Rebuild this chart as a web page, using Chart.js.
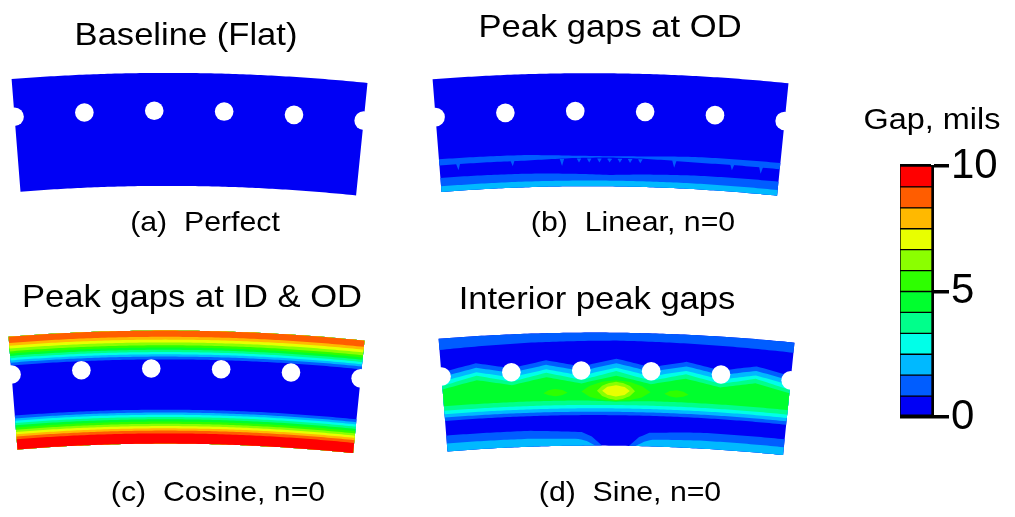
<!DOCTYPE html>
<html>
<head>
<meta charset="utf-8">
<script src="https://cdn.jsdelivr.net/npm/chart.js@4/dist/chart.umd.min.js"></script>
<style>
  html, body { margin: 0; padding: 0; background: #fff; }
  #wrap { position: relative; width: 1015px; height: 517px; overflow: hidden;
          font-family: 'Liberation Sans', Arial, Helvetica, sans-serif; color: #000; }
  #rings { position: absolute; left: 0; top: 0; }
  #legend { position: absolute; left: 890px; top: 130px; }
  .lbl { position: absolute; white-space: pre; line-height: 1; transform: translateX(-50%) scaleX(1.08); }
  .title { font-size: 32px; }
  .cap { font-size: 28px; }
  .unit { font-size: 30px; }
</style>
</head>
<body>
<div id="wrap">
  <canvas id="rings" width="1015" height="517"></canvas>
  <canvas id="legend" width="110" height="310"></canvas>

  <div class="lbl title" style="left:186px; top:18px">Baseline (Flat)</div>
  <div class="lbl title" style="left:610px; top:10px">Peak gaps at OD</div>
  <div class="lbl title" style="left:192px; top:280px">Peak gaps at ID &amp; OD</div>
  <div class="lbl title" style="left:597px; top:282px">Interior peak gaps</div>

  <div class="lbl cap" style="left:205px; top:208px">(a)  Perfect</div>
  <div class="lbl cap" style="left:633px; top:208px">(b)  Linear, n=0</div>
  <div class="lbl cap" style="left:218px; top:478px">(c)  Cosine, n=0</div>
  <div class="lbl cap" style="left:630px; top:478px">(d)  Sine, n=0</div>

  <div class="lbl unit" style="left:932px; top:104px">Gap, mils</div>
</div>

<script>
// ---- data -------------------------------------------------------------

// colour legend: 12 equal gap bands from 0 to 10 mils
const gapEdges = [0, 0.833, 1.667, 2.5, 3.333, 4.167, 5, 5.833, 6.667, 7.5, 8.333, 9.167, 10];
const gapTicks = [0, 5, 10];

// bolt holes: place along the arc (-1 left end .. 1 right end), radial fraction (0 = ID, 1 = OD)
const holeU = [-1, -0.6, -0.2, 0.2, 0.6, 1];
const holeS = 0.665;

// contour regions: gap band index, stations along the arc, lower and upper radial fraction
// (a) flat: whole face sits in the lowest band
const flatBands = [
  { lvl: 0, u: [-1, 1], lo: [0, 0], hi: [1, 1] }
];

// (b) linear: a few thin rings near the ID
const linearBands = [
  { lvl: 0, u: [-1, 1], lo: [0, 0], hi: [1, 1] },
  { lvl: 1, u: [-1, -0.5, -0.2, 0, 0.2, 0.5, 1], lo: [0, 0, 0, 0, 0, 0, 0], hi: [0.125, 0.12, 0.11, 0.1, 0.11, 0.12, 0.125] },
  { lvl: 1, u: [-1, -0.5, -0.2, 0, 0.2, 0.5, 1], lo: [0.235, 0.235, 0.25, 0.255, 0.25, 0.235, 0.235], hi: [0.29, 0.285, 0.27, 0.265, 0.27, 0.285, 0.29] },
  { lvl: 2, u: [-1, 1], lo: [0, 0], hi: [0.05, 0.05] }
];
// small drips hanging under the second ring
const linearDrips = [-0.89, -0.57, -0.28, -0.18, -0.12, -0.06, 0, 0.06, 0.12, 0.18, 0.38, 0.72, 0.89];
const linearDripDepth = [0.06, 0.05, 0.06, 0.03, 0.03, 0.03, 0.03, 0.03, 0.03, 0.03, 0.06, 0.05, 0.06];

// (c) cosine: nested bands at the ID (bottom) and the OD (top)
const cosineBottom = [0.30, 0.275, 0.255, 0.235, 0.215, 0.195, 0.175, 0.155, 0.135, 0.115, 0.09]; // bands 1..11
const cosineTop = [0.745, 0.77, 0.79, 0.81, 0.83, 0.85, 0.87, 0.895, 0.92, 0.945];               // bands 1..10

// (d) sine: peak in the interior, humps rising between the holes
const sineU = [-1, -0.8, -0.6, -0.4, -0.2, 0, 0.2, 0.4, 0.6, 0.8, 1];
const sineBands = [
  { lvl: 0, u: [-1, 1], lo: [0, 0], hi: [1, 1] },
  { lvl: 1, u: [-1, -0.5, 0, 0.5, 1], lo: [0.90, 0.92, 0.93, 0.92, 0.91], hi: [1, 1, 1, 1, 1] },
  { lvl: 1, u: sineU, lo: [0.27, 0.27, 0.27, 0.27, 0.27, 0.27, 0.27, 0.27, 0.27, 0.27, 0.27],
    hi: [0.70, 0.76, 0.70, 0.76, 0.70, 0.77, 0.70, 0.76, 0.70, 0.76, 0.70] },
  { lvl: 1, u: [-1, -0.5, -0.2, -0.14, -0.08], lo: [0, 0, 0, 0, 0], hi: [0.14, 0.14, 0.12, 0.08, 0] },
  { lvl: 1, u: [0.08, 0.14, 0.2, 0.5, 1], lo: [0, 0, 0, 0, 0], hi: [0, 0.08, 0.12, 0.14, 0.14] },
  { lvl: 2, u: sineU, lo: [0.30, 0.30, 0.30, 0.30, 0.30, 0.30, 0.30, 0.30, 0.30, 0.30, 0.30],
    hi: [0.66, 0.72, 0.66, 0.72, 0.66, 0.73, 0.66, 0.72, 0.66, 0.72, 0.66] },
  { lvl: 2, u: [-1, -0.5, -0.22, -0.17, -0.12], lo: [0, 0, 0, 0, 0], hi: [0.07, 0.07, 0.06, 0.04, 0] },
  { lvl: 2, u: [0.12, 0.17, 0.22, 0.5, 1], lo: [0, 0, 0, 0, 0], hi: [0, 0.04, 0.06, 0.07, 0.07] },
  { lvl: 3, u: sineU, lo: [0.33, 0.33, 0.33, 0.33, 0.33, 0.33, 0.33, 0.33, 0.33, 0.33, 0.33],
    hi: [0.62, 0.68, 0.62, 0.68, 0.62, 0.69, 0.62, 0.68, 0.62, 0.68, 0.62] },
  { lvl: 4, u: sineU, lo: [0.36, 0.36, 0.36, 0.36, 0.36, 0.36, 0.36, 0.36, 0.36, 0.36, 0.36],
    hi: [0.58, 0.65, 0.58, 0.65, 0.58, 0.66, 0.58, 0.65, 0.58, 0.65, 0.58] },
  { lvl: 5, u: sineU, lo: [0.40, 0.40, 0.40, 0.40, 0.40, 0.39, 0.40, 0.40, 0.40, 0.40, 0.40],
    hi: [0.55, 0.61, 0.55, 0.61, 0.55, 0.62, 0.55, 0.61, 0.55, 0.61, 0.55] },
  { lvl: 6, u: [-0.42, -0.39, -0.35, -0.31, -0.28], lo: [0.47, 0.45, 0.44, 0.45, 0.47], hi: [0.47, 0.495, 0.505, 0.495, 0.47] },
  { lvl: 6, u: [0.28, 0.31, 0.35, 0.39, 0.42], lo: [0.47, 0.45, 0.44, 0.45, 0.47], hi: [0.47, 0.495, 0.505, 0.495, 0.47] },
  { lvl: 6, u: [-0.2, -0.15, -0.08, 0, 0.08, 0.15, 0.2], lo: [0.48, 0.43, 0.405, 0.395, 0.405, 0.43, 0.48],
    hi: [0.48, 0.53, 0.565, 0.58, 0.565, 0.53, 0.48] },
  { lvl: 7, u: [-0.11, -0.08, -0.04, 0, 0.04, 0.08, 0.11], lo: [0.485, 0.44, 0.415, 0.405, 0.415, 0.44, 0.485],
    hi: [0.485, 0.53, 0.555, 0.565, 0.555, 0.53, 0.485] },
  { lvl: 8, u: [-0.08, -0.05, 0, 0.05, 0.08], lo: [0.485, 0.45, 0.435, 0.45, 0.485], hi: [0.485, 0.52, 0.535, 0.52, 0.485] }
];

// ---- styling / layout -------------------------------------------------

const BAND_COLORS = ['#0000F5', '#005DFF', '#00B9FF', '#00FFE8', '#00FF8B', '#00FF2E',
                     '#2EFF00', '#8BFF00', '#E8FF00', '#FFB900', '#FF5D00', '#FF0000'];

const R_OUT = 1980, THICK = 113, HALF = 0.09, TILT = 0.011; // ring segment shape, px / rad
const HOLE_R = 9.3;

// build the nested bands of (c) and the drips of (b)
const cosineBands = [{ lvl: 0, u: [-1, 1], lo: [0, 0], hi: [1, 1] }];
cosineBottom.forEach((s, k) => cosineBands.push({ lvl: k + 1, u: [-1, 1], lo: [0, 0], hi: [s, s] }));
cosineTop.forEach((s, k) => cosineBands.push({ lvl: k + 1, u: [-1, 1], lo: [s, s], hi: [1, 1] }));
cosineBands.sort((a, b) => a.lvl - b.lvl);

linearDrips.forEach((u, i) => {
  linearBands.push({ lvl: 1, u: [u - 0.012, u, u + 0.012],
    lo: [0.24, 0.24 - linearDripDepth[i], 0.24], hi: [0.245, 0.245, 0.245] });
});

const panels = [
  { cx: 189, top: 73, bands: flatBands },
  { cx: 610, top: 73.3, bands: linearBands },
  { cx: 186, top: 330.7, bands: cosineBands },
  { cx: 616, top: 332.7, bands: sineBands }
];

// (u, s) on the curved face -> chart units (1 unit = 1 px)
function place(p, u, s) {
  const th = u * HALF, r = R_OUT - THICK * (1 - s);
  const dx = r * Math.sin(th);
  const dy = R_OUT - r * Math.cos(th) - THICK / 2;
  return {
    x: p.cx + dx * Math.cos(TILT) - dy * Math.sin(TILT),
    y: p.top + THICK / 2 + dx * Math.sin(TILT) + dy * Math.cos(TILT)
  };
}

// follow the arc between stations so the edges stay curved
function outline(p, b) {
  const edge = prof => {
    const pts = [];
    for (let i = 0; i < b.u.length - 1; i++) {
      const steps = Math.max(1, Math.ceil(Math.abs(b.u[i + 1] - b.u[i]) / 0.02));
      for (let k = 0; k < steps; k++) {
        const t = k / steps;
        pts.push(place(p, b.u[i] + (b.u[i + 1] - b.u[i]) * t, prof[i] + (prof[i + 1] - prof[i]) * t));
      }
    }
    const n = b.u.length - 1;
    pts.push(place(p, b.u[n], prof[n]));
    return pts;
  };
  return edge(b.lo).concat(edge(b.hi).reverse());
}

const datasets = [];
panels.forEach(p => {
  p.bands.forEach(b => {
    datasets.push({ data: outline(p, b), bandColor: BAND_COLORS[b.lvl], pointRadius: 0, showLine: false });
  });
});
panels.forEach(p => {
  datasets.push({
    data: holeU.map(u => place(p, u, holeS)),
    pointRadius: HOLE_R, pointBackgroundColor: '#fff', pointBorderWidth: 0, pointBorderColor: '#fff'
  });
});

// paint band polygons through the points the scales placed
const bandFill = {
  id: 'bandFill',
  beforeDatasetsDraw(chart) {
    const ctx = chart.ctx;
    chart.data.datasets.forEach((ds, i) => {
      if (!ds.bandColor) return;
      const pts = chart.getDatasetMeta(i).data;
      ctx.save();
      ctx.beginPath();
      pts.forEach((pt, j) => j ? ctx.lineTo(pt.x, pt.y) : ctx.moveTo(pt.x, pt.y));
      ctx.closePath();
      ctx.fillStyle = ds.bandColor;
      ctx.fill();
      ctx.restore();
    });
  }
};

new Chart(document.getElementById('rings'), {
  type: 'scatter',
  data: { datasets },
  options: {
    responsive: false,
    animation: false,
    events: [],
    layout: { padding: 0, autoPadding: false },
    plugins: { legend: { display: false }, tooltip: { enabled: false } },
    scales: {
      x: { type: 'linear', display: false, min: 0, max: 1015 },
      y: { type: 'linear', display: false, min: 0, max: 517, reverse: true }
    }
  },
  plugins: [bandFill]
});

// colour legend as floating bars
new Chart(document.getElementById('legend'), {
  type: 'bar',
  data: {
    labels: ['gap'],
    datasets: BAND_COLORS.map((c, k) => ({
      data: [[gapEdges[k], gapEdges[k + 1]]],
      backgroundColor: c,
      borderColor: '#000',
      borderWidth: 1,
      borderSkipped: false,
      grouped: false,
      barPercentage: 1,
      categoryPercentage: 1
    }))
  },
  options: {
    responsive: false,
    animation: false,
    events: [],
    layout: { padding: { left: 10, top: 36, bottom: 22, right: 0 } },
    plugins: { legend: { display: false }, tooltip: { enabled: false } },
    scales: {
      x: { display: false },
      y: {
        position: 'right',
        min: 0, max: 10,
        z: 1,
        afterFit: s => { s.width = 68; },
        afterBuildTicks: s => { s.ticks = gapTicks.map(v => ({ value: v })); },
        ticks: { color: '#000', padding: 2, font: { size: 42, lineHeight: 1, family: "'Liberation Sans', Arial, sans-serif" } },
        grid: { color: '#000', lineWidth: 3.5, tickLength: 17, drawOnChartArea: true },
        border: { display: true, color: '#000', width: 3 }
      }
    }
  }
});
</script>
</body>
</html>
